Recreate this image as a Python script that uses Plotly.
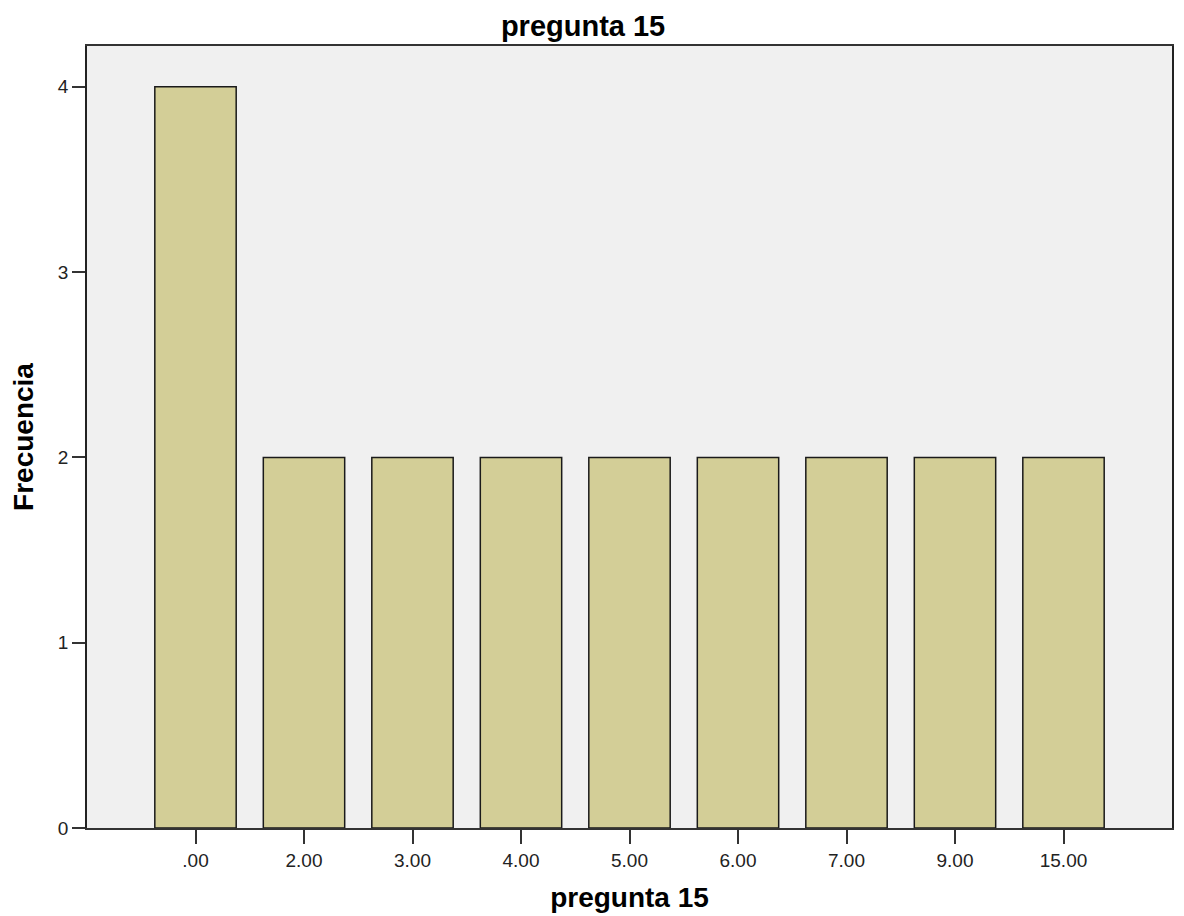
import plotly.graph_objects as go

categories = [".00", "2.00", "3.00", "4.00", "5.00", "6.00", "7.00", "9.00", "15.00"]
frecuencia = [4, 2, 2, 2, 2, 2, 2, 2, 2]
y_ticks = [0, 1, 2, 3, 4]

fig = go.Figure(go.Bar(
    x=categories, y=frecuencia, width=0.75,
    marker=dict(color="#D3CE97", line=dict(color="#1a1a1a", width=1.5)),
))

font = "Liberation Sans, Arial, sans-serif"
fig.update_layout(
    width=1184, height=916,
    margin=dict(l=75, r=20, t=38, b=96),
    paper_bgcolor="white", plot_bgcolor="#F0F0F0",
    showlegend=False,
    title=dict(text="<b>pregunta 15</b>", x=0.4857, xanchor="center", xref="container",
               y=0.981, yanchor="middle", yref="container",
               font=dict(family=font, size=29, color="black")),
    font=dict(family=font, size=19, color="#222222"),
)
fig.update_xaxes(type="category", range=[-1, 9], showgrid=False,
                 showline=True, linecolor="#333333", linewidth=1.5, mirror=True,
                 ticks="outside", ticklen=14, tickwidth=2, tickcolor="#333333",
                 tickfont=dict(size=19),
                 title=dict(text="<b>pregunta 15</b>", font=dict(size=28, color="black"), standoff=18))
fig.update_yaxes(range=[0, 4.22], showgrid=False, zeroline=False,
                 showline=True, linecolor="#222222", linewidth=1.5, mirror=True,
                 ticks="outside", ticklen=13, tickwidth=1.5, tickcolor="#333333",
                 tickvals=y_ticks, tickfont=dict(size=19),
                 title=dict(text="<b>Frecuencia</b>", font=dict(size=28, color="black"), standoff=18))

fig.write_html("out.html")
